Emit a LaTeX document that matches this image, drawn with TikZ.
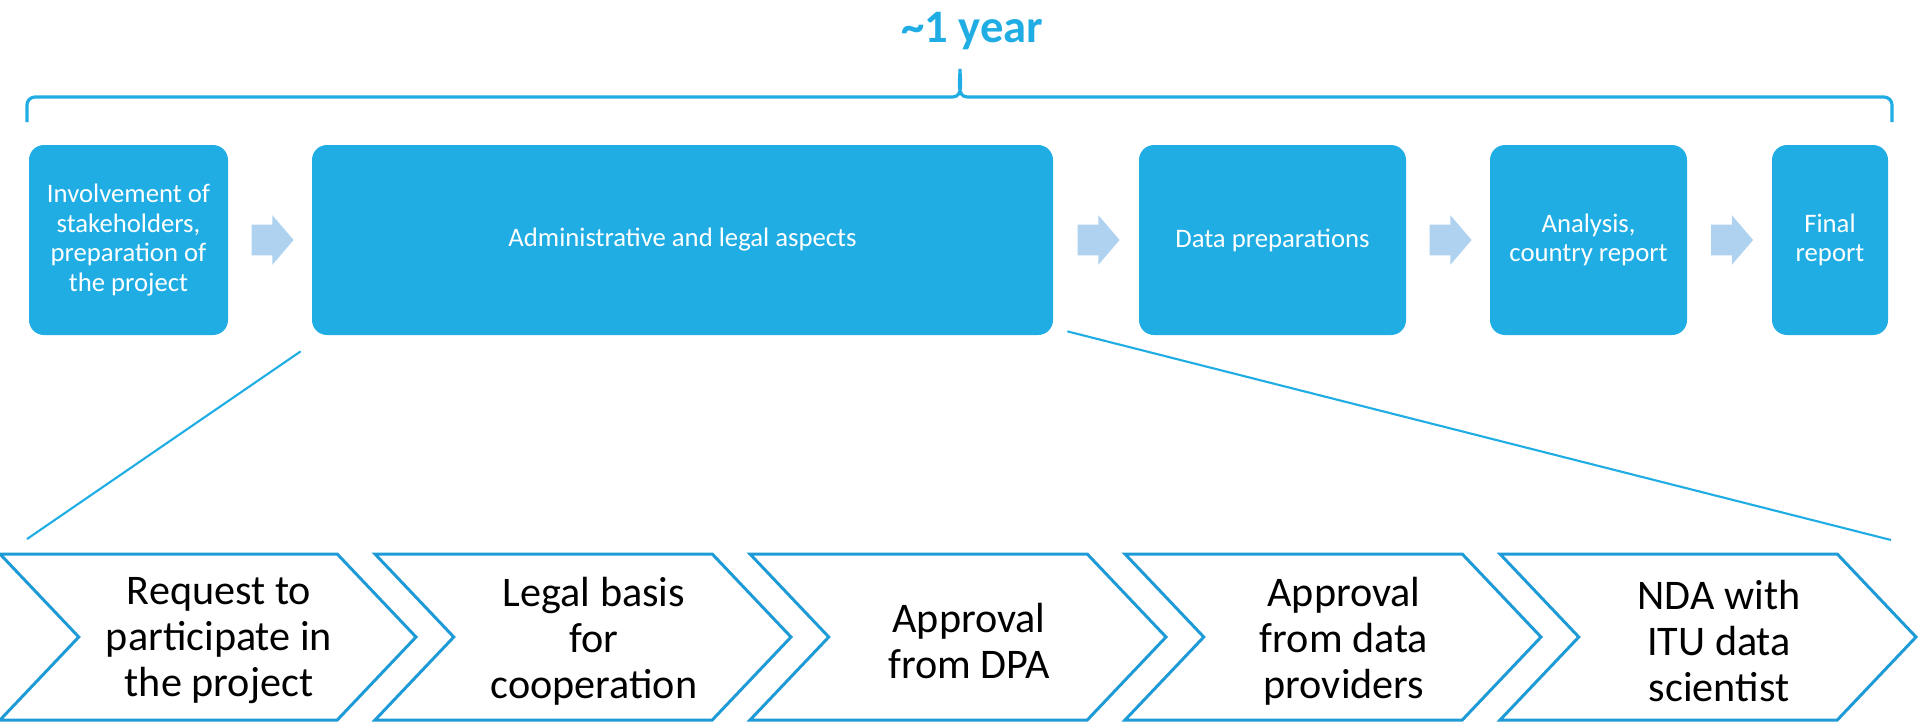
\documentclass[tikz,border=0pt]{standalone}
\usepackage{fontspec}
\setmainfont{Carlito}
\usepackage{tikz}
\usetikzlibrary{arrows,shapes,positioning,calc}
\definecolor{ptblue}{RGB}{31,173,228}
\definecolor{ptlightblue}{RGB}{174,210,239}
\definecolor{ptline}{RGB}{30,155,214}
\tikzstyle{phase} = [rectangle, rounded corners=0.3cm, minimum height=3.8cm, text centered, align=center, fill=ptblue, text=white, inner sep=2pt, font=\fontsize{15.2}{16.8}\selectfont]
\tikzstyle{next} = [single arrow, fill=ptlightblue, inner xsep=0pt, inner ysep=0.3cm, minimum height=0.84cm, single arrow head extend=0.19cm, single arrow tip angle=99, xshift=-0.08cm]
\tikzstyle{stepbox} = [signal, signal from=west, signal to=east, signal pointer angle=93, draw=ptline, line width=1.7pt, minimum width=8.32cm, minimum height=3.32cm, inner sep=0pt]
\tikzstyle{steptext} = [align=center, inner sep=0pt, font=\fontsize{24}{26.2}\selectfont]
\tikzstyle{zoomline} = [ptblue, line width=1.2pt]

\begin{document}
\begin{tikzpicture}
\useasboundingbox (0,0) rectangle (38.4,-14.42);

% Duration
\node[font=\fontsize{26.5}{30}\bfseries\selectfont, text=ptblue, anchor=base] (span) at (19.45,-0.84) {\textasciitilde 1 year};
\draw[ptblue, line width=1.8pt] (0.54,-2.44) -- (0.54,-2.1) to[out=90,in=180] (0.7,-1.94) -- (19.05,-1.94) to[out=0,in=-90] (19.2,-1.38) to[out=-90,in=180] (19.35,-1.94) -- (37.68,-1.94) to[out=0,in=90] (37.84,-2.1) -- (37.84,-2.44);

% Phases
\node[phase, minimum width=3.98cm] (b1) at (2.57,-4.8) {Involvement of\\stakeholders,\\preparation of\\the project};
\node[phase, minimum width=14.82cm] (b2) at (13.65,-4.8) {Administrative and legal aspects};
\node[phase, minimum width=5.34cm] (b3) at (25.45,-4.8) {Data preparations};
\node[phase, minimum width=3.94cm] (b4) at (31.77,-4.8) {Analysis,\\country report};
\node[phase, minimum width=2.32cm] (b5) at (36.6,-4.8) {Final\\report};

\foreach \a/\b in {b1/b2,b2/b3,b3/b4,b4/b5}
  \node[next] (n\a) at ($(\a.east)!0.5!(\b.west)$) {};

% Steps of the legal phase
\foreach \txt [count=\i] in {{Request to\\participate in\\the project},{Legal basis\\for\\cooperation},{Approval\\from DPA},{Approval\\from data\\providers},{NDA with\\ITU data\\scientist}}{
  \node[stepbox] (s\i) at ({4.16+7.5*(\i-1)},-12.74) {};
  \node[steptext] (t\i) at ([shift={(0.22,-0.08)}]s\i.center) {\txt};
}

% Zoom lines
\coordinate (zl) at ([shift={(-0.22,-0.32)}]b2.south west);
\coordinate (zr) at ([shift={(0.28,0.08)}]b2.south east);
\coordinate (sl) at (0.54,-10.78);
\coordinate (sr) at (37.82,-10.8);
\draw[zoomline] (zl) -- (sl);
\draw[zoomline] (zr) -- (sr);
\end{tikzpicture}
\end{document}
